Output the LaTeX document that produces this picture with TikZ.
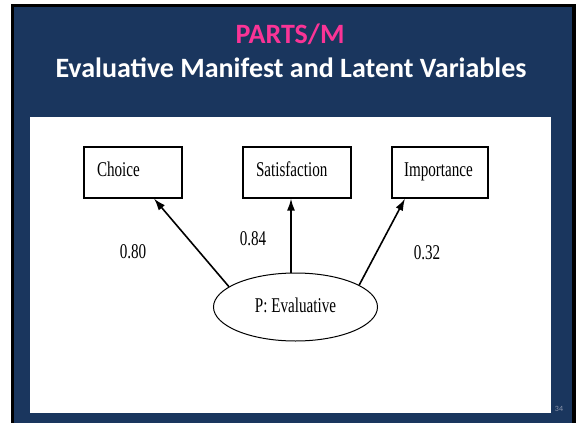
\documentclass[tikz,border=0pt]{standalone}
\usepackage{fontspec}
\usetikzlibrary{shapes.geometric,arrows.meta}
\setmainfont{Liberation Serif}[FakeStretch=0.72]
\newfontfamily\titlefont{Carlito}
\definecolor{navy}{RGB}{26,54,94}
\definecolor{titlepink}{RGB}{250,52,150}
\definecolor{pagegray}{RGB}{140,150,172}
\begin{document}
\begin{tikzpicture}[x=1pt,y=-1pt,
  varbox/.style={draw=black,line width=1.2pt,minimum height=51pt,inner xsep=13pt,inner ysep=0pt,align=left,text height=12pt,text depth=4pt,font=\fontsize{21}{23}\selectfont},
  latent/.style={draw=black,line width=1pt,ellipse,minimum width=164pt,minimum height=68pt,inner sep=0pt,text height=14pt,text depth=4pt,font=\fontsize{21}{23}\selectfont},
  loading/.style={font=\fontsize{21}{23}\selectfont,inner sep=1pt},
  loadarrow/.style={line width=1.6pt,-{Latex[length=12pt,width=8pt]}}]
\useasboundingbox (0,0) rectangle (576,423);
\fill[white] (0,0) rectangle (576,423);
\fill[black] (11,4) rectangle (576,423);
\fill[navy] (14,7) rectangle (572,423);
\fill[white] (30,117) rectangle (551,413);
\node[font=\titlefont\bfseries\fontsize{28}{30}\selectfont,text=titlepink,anchor=base] (t1) at (290,43) {PARTS/M};
\node[font=\titlefont\bfseries\fontsize{28}{30}\selectfont,text=white,anchor=base] (t2) at (291,77) {Evaluative Manifest and Latent Variables};
\node[varbox,text width=72pt] (choice) at (133,172.5) {Choice};
\node[varbox,text width=82pt] (sat) at (297,172.5) {Satisfaction};
\node[varbox,text width=72pt,inner xsep=12pt] (imp) at (440,172.5) {Importance};
\node[latent] (ell) at (295.5,307) {P: Evaluative\hspace{16pt}};
\node[loading] (l1) at (133,252) {0.80};
\node[loading] (l2) at (253,238.5) {0.84};
\node[loading] (l3) at (427,253) {0.32};
\draw[loadarrow] (ell.163) -- ([xshift=21pt]choice.south);
\draw[loadarrow] ([xshift=-6pt]sat.south |- ell.north) -- ([xshift=-6pt]sat.south);
\draw[loadarrow] (ell.19) -- ([xshift=-35pt]imp.south);
\node[font=\titlefont\fontsize{8}{9}\selectfont,text=pagegray] (pg) at (559,409) {34};
\end{tikzpicture}
\end{document}
